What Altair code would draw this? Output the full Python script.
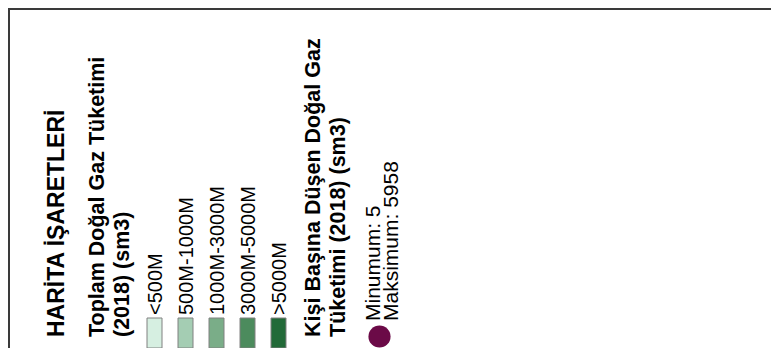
import altair as alt
import pandas as pd

# ---------------- content ----------------
title = "HARİTA İŞARETLERİ"
total_title = ["Toplam Doğal Gaz Tüketimi", "(2018) (sm3)"]
classes = ["<500M", "500M-1000M", "1000M-3000M", "3000M-5000M", ">5000M"]
class_colors = ["#d6efe1", "#a4cdb3", "#7aad88", "#4c8b5d", "#226a38"]
per_capita_title = ["Kişi Başına Düşen Doğal Gaz", "Tüketimi (2018) (sm3)"]
per_capita_min = 5
per_capita_max = 5958
circle_color = "#6b0a47"

# ---------------- layout ----------------
W, H = 763, 340          # plot area
M = 8                    # page margin (scale domain uses page coordinates)
FONT = "Liberation Sans"
TEXT = "#000000"

title_fs, sub_fs, lab_fs, mm_fs = 23, 21.5, 20, 21
text_bottom = 337
line_gap = 25
title_base = 63.5
sub1_base = 104
sw_x0, sw_step, sw_w = 147, 31, 15
sw_top, sw_bottom = 318, 348
lab_bottom, lab_off = 315, 15.3
sub2_base = 319.5
circ_x, circ_y, circ_d = 379.5, 336.5, 25
mm_bottom, mm_base0, mm_gap = 321, 379.5, 18.5

bold_rows = [dict(t=title, x=title_base, y=text_bottom, fs=title_fs)]
for i, s in enumerate(total_title):
    bold_rows.append(dict(t=s, x=sub1_base + i * line_gap, y=text_bottom, fs=sub_fs))
for i, s in enumerate(per_capita_title):
    bold_rows.append(dict(t=s, x=sub2_base + i * line_gap, y=text_bottom, fs=sub_fs))
bold_df = pd.DataFrame(bold_rows)

reg_rows = []
for i, c in enumerate(classes):
    reg_rows.append(dict(t=c, x=sw_x0 + i * sw_step + lab_off, y=lab_bottom, fs=lab_fs))
for i, s in enumerate([f"Minumum: {per_capita_min}", f"Maksimum: {per_capita_max}"]):
    reg_rows.append(dict(t=s, x=mm_base0 + i * mm_gap, y=mm_bottom, fs=mm_fs))
reg_df = pd.DataFrame(reg_rows)

sw_df = pd.DataFrame(
    dict(
        cls=classes,
        color=class_colors,
        x=[sw_x0 + i * sw_step for i in range(len(classes))],
        x2=[sw_x0 + i * sw_step + sw_w for i in range(len(classes))],
        y=[sw_top] * len(classes),
        y2=[sw_bottom] * len(classes),
    )
)

circ_df = pd.DataFrame(dict(x=[circ_x], y=[circ_y], label=["Kişi başına"]))

frame_df = pd.DataFrame(
    dict(x=[M, M + 1], x2=[M + W, M + 1], y=[M + 1, M], y2=[M + 1, M + H])
)

xs = alt.Scale(domain=[M, M + W])
ys = alt.Scale(domain=[M + H, M])

X = lambda f="x": alt.X(f"{f}:Q", scale=xs, axis=None)
Y = lambda f="y": alt.Y(f"{f}:Q", scale=ys, axis=None)

frame = alt.Chart(frame_df).mark_rule(color="#3a3a3a", strokeWidth=2).encode(
    x=X(), x2="x2:Q", y=Y(), y2="y2:Q"
)

swatches = alt.Chart(sw_df).mark_rect(stroke="#808080", strokeWidth=1).encode(
    x=X(), x2="x2:Q", y=Y(), y2="y2:Q", fill=alt.Fill("color:N", scale=None)
)

circle = alt.Chart(circ_df).mark_circle(
    size=3.14159 * (circ_d / 2) ** 2, opacity=1, color=circle_color
).encode(x=X(), y=Y())

bold_text = alt.Chart(bold_df).mark_text(
    angle=270, align="left", baseline="alphabetic", font=FONT,
    fontWeight="bold", color=TEXT
).encode(x=X(), y=Y(), text="t:N", size=alt.Size("fs:Q", scale=None))

reg_text = alt.Chart(reg_df).mark_text(
    angle=270, align="left", baseline="alphabetic", font=FONT,
    fontWeight="normal", color=TEXT
).encode(x=X(), y=Y(), text="t:N", size=alt.Size("fs:Q", scale=None))

chart = (
    alt.layer(frame, swatches, circle, bold_text, reg_text)
    .properties(width=W, height=H, padding=0, autosize=alt.AutoSizeParams(type="none"),
                background="white")
    .configure_view(stroke=None)
)

chart.save("out.html", embed_options={"renderer": "svg", "actions": False})
